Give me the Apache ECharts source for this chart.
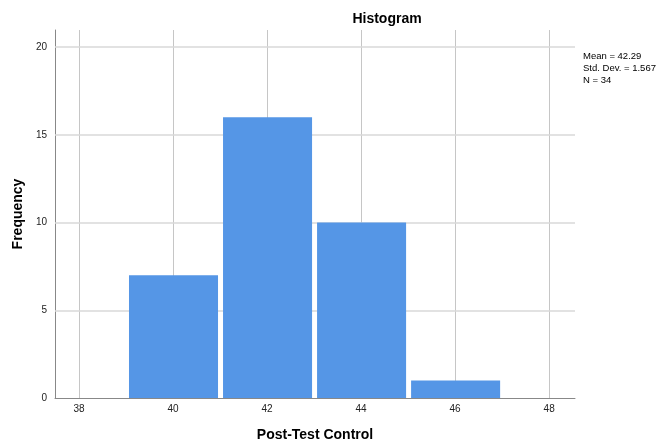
<!DOCTYPE html>
<html>
<head>
<meta charset="utf-8">
<script src="https://cdn.jsdelivr.net/npm/echarts@6/dist/echarts.min.js"></script>
<style>html,body{margin:0;padding:0;background:#fff}#c{width:658px;height:444px}</style>
</head>
<body>
<div id="c"></div>
<script>
const binStart = [39, 41, 43, 45];
const binEnd = [41, 43, 45, 47];
const counts = [7, 16, 10, 1];
const xTicks = [38, 40, 42, 44, 46, 48];
const yTicks = [0, 5, 10, 15, 20];
const statsLines = ['Mean = 42.29', 'Std. Dev. = 1.567', 'N = 34'];

const font = 'Liberation Sans, Arial, sans-serif';
const chart = echarts.init(document.getElementById('c'), null, {renderer: 'canvas'});
const histData = binStart.map((s, i) => [s, binEnd[i], counts[i]]);

chart.setOption({
  animation: false,
  backgroundColor: '#fff',
  title: {
    text: 'Histogram', left: 382, top: 7, textAlign: 'center',
    textStyle: {fontFamily: font, fontSize: 14, fontWeight: 'bold', color: '#000'}
  },
  graphic: [{
    type: 'text', left: 583, top: 50,
    style: {text: statsLines.join('\n'), font: '9.5px ' + font, lineHeight: 12, fill: '#000'}
  }],
  grid: {left: 55, right: 83, top: 30, bottom: 46, outerBoundsMode: 'none', containLabel: false},
  xAxis: {
    type: 'value', min: 37.49, max: 48.55,
    name: 'Post-Test Control', nameLocation: 'middle', nameGap: 30,
    nameTextStyle: {fontFamily: font, fontSize: 14, fontWeight: 'bold', color: '#000'},
    axisLine: {show: true, lineStyle: {color: '#888', width: 1}},
    axisTick: {show: false},
    axisLabel: {customValues: xTicks, fontFamily: font, fontSize: 10, color: '#222', margin: 6},
    splitLine: {show: false}
  },
  yAxis: {
    type: 'value', min: 0, max: 20.97,
    name: 'Frequency', nameLocation: 'middle', nameGap: 29,
    nameTextStyle: {fontFamily: font, fontSize: 14, fontWeight: 'bold', color: '#000'},
    axisLine: {show: true, lineStyle: {color: '#888', width: 1}},
    axisTick: {show: false},
    axisLabel: {customValues: yTicks, fontFamily: font, fontSize: 10, color: '#222', margin: 8},
    splitLine: {show: false}
  },
  series: [
    {
      type: 'line', data: [], z: 1, silent: true,
      markLine: {
        z: 1, silent: true, symbol: 'none', label: {show: false}, animation: false,
        data: xTicks.map(v => ({xAxis: v, lineStyle: {color: '#c6c6c6', width: 1, type: 'solid'}}))
          .concat(yTicks.filter(v => v > 0).map(v => ({yAxis: v, lineStyle: {color: '#d8d8d8', width: 1.5, type: 'solid'}})))
      }
    },
    {
      type: 'custom', z: 10,
      data: histData,
      encode: {x: [0, 1], y: 2},
      renderItem: function (params, api) {
        const p0 = api.coord([api.value(0), 0]);
        const p1 = api.coord([api.value(1), api.value(2)]);
        return {
          type: 'rect',
          shape: {x: p0[0] + 3, y: p1[1], width: p1[0] - p0[0] - 5, height: p0[1] - p1[1]},
          style: {fill: '#5596e6'}
        };
      }
    }
  ]
});
</script>
</body>
</html>
